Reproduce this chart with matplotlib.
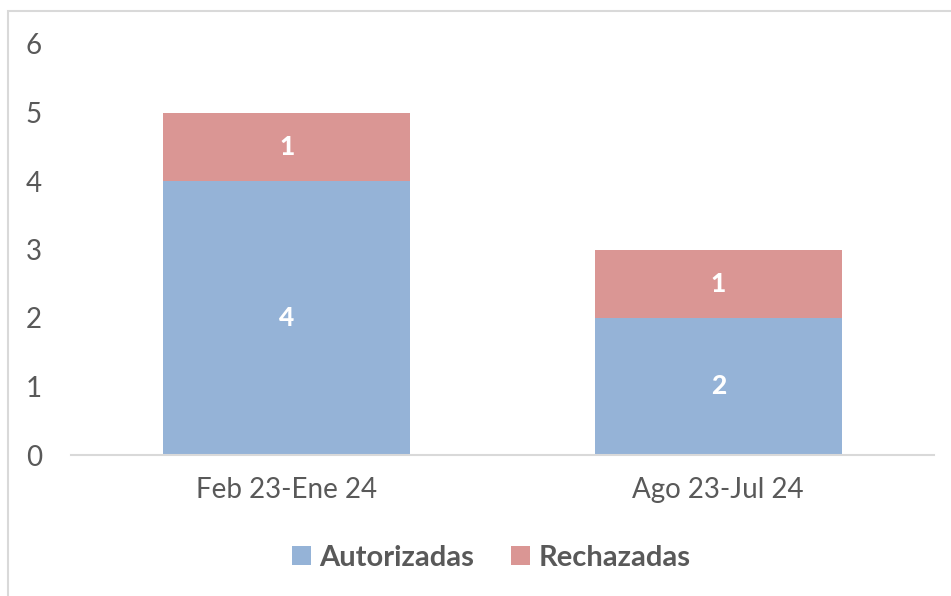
import matplotlib
matplotlib.use('Agg')
import matplotlib.pyplot as plt
from matplotlib.patches import Rectangle

# data
categories = ['Feb 23-Ene 24', 'Ago 23-Jul 24']
autorizadas = [4, 2]
rechazadas = [1, 1]

blue = '#95B3D7'
red = '#DA9694'
txt = '#595959'

plt.rcParams['font.family'] = ['Lato', 'DejaVu Sans']

W, H = 951, 596
fig = plt.figure(figsize=(W / 100, H / 100), dpi=100)
ax = fig.add_axes([71 / W, 1 - 455 / H, (934 - 71) / W, (455 - 44) / H])

x = range(len(categories))
b1 = ax.bar(x, autorizadas, width=0.572, color=blue, label='Autorizadas')
b2 = ax.bar(x, rechazadas, width=0.572, bottom=autorizadas, color=red, label='Rechazadas')

for bars, vals, bottoms in [(b1, autorizadas, [0] * len(autorizadas)), (b2, rechazadas, autorizadas)]:
    for rect, v, b in zip(bars, vals, bottoms):
        ax.text(rect.get_x() + rect.get_width() / 2, b + v / 2, str(v),
                ha='center', va='center', color='white', fontsize=19, fontweight='black')

ax.set_xlim(-0.5, 1.5)
ax.set_ylim(0, 6)
ax.set_yticks(range(7))
ax.set_xticks(list(x))
ax.set_xticklabels(categories)
for s in ['top', 'right', 'left']:
    ax.spines[s].set_visible(False)
ax.spines['bottom'].set_color('#D9D9D9')
ax.spines['bottom'].set_linewidth(1.5)
ax.tick_params(axis='both', length=0, labelsize=20, colors=txt)
ax.tick_params(axis='y', pad=21)
ax.tick_params(axis='x', pad=16)

leg = fig.legend(loc='center', bbox_to_anchor=(491 / W, 1 - 558 / H), ncol=2, frameon=False,
                 handlelength=0.65, handleheight=0.65, columnspacing=1.25, handletextpad=0.3,
                 prop={'size': 21, 'weight': 'bold'})
for t in leg.get_texts():
    t.set_color(txt)

# chart border
fig.patches.append(Rectangle((8 / W, -0.05), 1.05, 1 - 11 / H + 0.05, transform=fig.transFigure,
                             fill=False, edgecolor='#D9D9D9', linewidth=1.5))

fig.savefig('out.png', dpi=100)
